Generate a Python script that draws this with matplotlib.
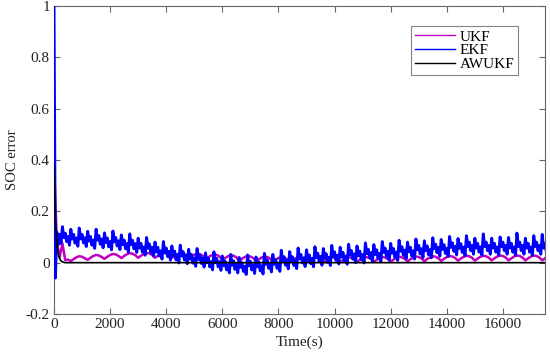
import numpy as np
import matplotlib
matplotlib.use("Agg")
import matplotlib.pyplot as plt
from matplotlib.ticker import FuncFormatter

# ---- data ----
ekf_dt = 50  # s between EKF samples
ekf = [
    1.000, -0.060, 0.120, 0.070, 0.110, 0.075,
    0.140, 0.098, 0.115, 0.082, 0.102, 0.068,
    0.130, 0.092, 0.110, 0.076, 0.096, 0.064,
    0.135, 0.093, 0.110, 0.077, 0.097, 0.063,
    0.122, 0.084, 0.102, 0.068, 0.088, 0.056,
    0.130, 0.088, 0.105, 0.072, 0.092, 0.058,
    0.116, 0.078, 0.096, 0.062, 0.082, 0.050,
    0.123, 0.081, 0.098, 0.065, 0.085, 0.051,
    0.108, 0.070, 0.088, 0.054, 0.074, 0.042,
    0.112, 0.070, 0.087, 0.054, 0.074, 0.040,
    0.095, 0.057, 0.075, 0.041, 0.061, 0.029,
    0.098, 0.056, 0.073, 0.040, 0.060, 0.026,
    0.080, 0.042, 0.060, 0.026, 0.046, 0.014,
    0.082, 0.040, 0.057, 0.024, 0.044, 0.010,
    0.065, 0.027, 0.045, 0.011, 0.031, -0.001,
    0.068, 0.026, 0.043, 0.010, 0.030, -0.004,
    0.052, 0.014, 0.032, -0.002, 0.018, -0.014,
    0.055, 0.013, 0.030, -0.003, 0.017, -0.017,
    0.038, 0.000, 0.018, -0.016, 0.004, -0.028,
    0.042, 0.000, 0.017, -0.016, 0.004, -0.030,
    0.026, -0.012, 0.006, -0.028, -0.008, -0.040,
    0.032, -0.010, 0.007, -0.026, -0.006, -0.040,
    0.020, -0.018, 0.000, -0.034, -0.014, -0.046,
    0.030, -0.012, 0.005, -0.028, -0.008, -0.042,
    0.022, -0.016, 0.002, -0.032, -0.012, -0.044,
    0.036, -0.006, 0.011, -0.022, -0.002, -0.036,
    0.032, -0.006, 0.012, -0.022, -0.002, -0.034,
    0.048, 0.006, 0.023, -0.010, 0.010, -0.024,
    0.043, 0.005, 0.023, -0.011, 0.009, -0.023,
    0.057, 0.015, 0.032, -0.001, 0.019, -0.015,
    0.050, 0.012, 0.030, -0.004, 0.016, -0.016,
    0.062, 0.020, 0.037, 0.004, 0.024, -0.010,
    0.055, 0.017, 0.035, 0.001, 0.021, -0.011,
    0.067, 0.025, 0.042, 0.009, 0.029, -0.005,
    0.060, 0.022, 0.040, 0.006, 0.026, -0.006,
    0.072, 0.030, 0.047, 0.014, 0.034, 0.000,
    0.065, 0.027, 0.045, 0.011, 0.031, -0.001,
    0.077, 0.035, 0.052, 0.019, 0.039, 0.005,
    0.070, 0.032, 0.050, 0.016, 0.036, 0.004,
    0.082, 0.040, 0.057, 0.024, 0.044, 0.010,
    0.075, 0.037, 0.055, 0.021, 0.041, 0.009,
    0.087, 0.045, 0.062, 0.029, 0.049, 0.015,
    0.080, 0.042, 0.060, 0.026, 0.046, 0.014,
    0.092, 0.050, 0.067, 0.034, 0.054, 0.020,
    0.085, 0.047, 0.065, 0.031, 0.051, 0.019,
    0.097, 0.055, 0.072, 0.039, 0.059, 0.025,
    0.090, 0.052, 0.070, 0.036, 0.056, 0.024,
    0.102, 0.060, 0.077, 0.044, 0.064, 0.030,
    0.094, 0.056, 0.074, 0.040, 0.060, 0.028,
    0.105, 0.063, 0.080, 0.047, 0.067, 0.033,
    0.095, 0.057, 0.075, 0.041, 0.061, 0.029,
    0.112, 0.063, 0.080, 0.047, 0.067, 0.033,
    0.095, 0.057, 0.075, 0.041, 0.061, 0.029,
    0.100, 0.063, 0.080, 0.047, 0.067, 0.033,
    0.098, 0.057, 0.075, 0.041, 0.061, 0.029,
    0.115, 0.063, 0.080, 0.047, 0.067, 0.033,
    0.095, 0.057, 0.075, 0.041, 0.061, 0.029,
    0.105, 0.063, 0.080, 0.047, 0.067, 0.033,
    0.110, 0.057, 0.075, 0.041, 0.061, 0.029,
]

ukf_dt = 100  # s between UKF samples
ukf = [
    0.380, 0.085, 0.020, 0.075, 0.010, 0.012,
    0.006, 0.014, 0.021, 0.025, 0.023, 0.017,
    0.011, 0.019, 0.026, 0.030, 0.028, 0.022,
    0.015, 0.023, 0.030, 0.034, 0.032, 0.026,
    0.018, 0.026, 0.033, 0.037, 0.035, 0.029,
    0.019, 0.027, 0.034, 0.038, 0.036, 0.030,
    0.019, 0.027, 0.034, 0.038, 0.036, 0.030,
    0.018, 0.026, 0.033, 0.037, 0.035, 0.029,
    0.016, 0.024, 0.031, 0.035, 0.033, 0.027,
    0.013, 0.021, 0.028, 0.032, 0.030, 0.024,
    0.010, 0.018, 0.025, 0.029, 0.027, 0.021,
    0.007, 0.015, 0.022, 0.026, 0.024, 0.018,
    0.005, 0.013, 0.020, 0.024, 0.022, 0.016,
    0.003, 0.011, 0.018, 0.022, 0.020, 0.014,
    0.002, 0.010, 0.017, 0.021, 0.019, 0.013,
    0.002, 0.010, 0.017, 0.021, 0.019, 0.013,
    0.002, 0.010, 0.017, 0.021, 0.019, 0.013,
    0.002, 0.010, 0.017, 0.021, 0.019, 0.013,
    0.003, 0.011, 0.018, 0.022, 0.020, 0.014,
    0.003, 0.011, 0.018, 0.022, 0.020, 0.014,
    0.004, 0.012, 0.019, 0.023, 0.021, 0.015,
    0.005, 0.013, 0.020, 0.024, 0.022, 0.016,
    0.006, 0.014, 0.021, 0.025, 0.023, 0.017,
    0.007, 0.015, 0.022, 0.026, 0.024, 0.018,
    0.008, 0.016, 0.023, 0.027, 0.025, 0.019,
    0.008, 0.016, 0.023, 0.027, 0.025, 0.019,
    0.009, 0.017, 0.024, 0.028, 0.026, 0.020,
    0.009, 0.017, 0.024, 0.028, 0.026, 0.020,
    0.009, 0.017, 0.024, 0.028, 0.026, 0.020,
    0.009, 0.017,
]

awukf_t = [0, 50, 100, 150, 200, 250, 300, 400, 17500]
awukf = [0.38, 0.17, 0.08, 0.035, 0.016, 0.007, 0.003, 0.0, 0.0]

xticks = [0, 2000, 4000, 6000, 8000, 10000, 12000, 14000, 16000]
yticks = [-0.2, 0, 0.2, 0.4, 0.6, 0.8, 1]
labels = ["UKF", "EKF", "AWUKF"]
colors = ["#c000c0", "#0000ff", "#000000"]

# ---- plot ----
plt.rcParams["font.family"] = ["Liberation Serif", "DejaVu Serif"]
fig = plt.figure(figsize=(5.5, 3.56), dpi=100)
ax = fig.add_axes([54 / 550, 42 / 356, 491 / 550, 308 / 356])

t_ekf = np.arange(len(ekf)) * ekf_dt
t_ukf = np.arange(len(ukf)) * ukf_dt

ax.plot(t_ukf, ukf, color=colors[0], lw=1.8, label=labels[0], zorder=2)
ax.plot(t_ekf, ekf, color=colors[1], lw=2.1, label=labels[1], zorder=3)
ax.plot(awukf_t, awukf, color=colors[2], lw=1.2, label=labels[2], zorder=4)

ax.set_xlim(0, 17500)
ax.set_ylim(-0.2, 1.0)
ax.set_xticks(xticks)
ax.set_yticks(yticks)
ax.xaxis.set_major_formatter(FuncFormatter(lambda v, p: f"{v:g}"))
ax.yaxis.set_major_formatter(FuncFormatter(lambda v, p: f"{v:g}".replace("\u2212", "-")))

spine_c = "#666666"
for s in ax.spines.values():
    s.set_color(spine_c)
    s.set_linewidth(0.8)
ax.tick_params(direction="in", top=True, right=True, length=4, width=0.8,
               color=spine_c, labelsize=11, labelcolor="#222222", pad=3)

ax.set_xlabel("Time(s)", fontsize=11, labelpad=3, color="#222222")
ax.set_ylabel("SOC error", fontsize=10.5, labelpad=5, color="#222222")

leg = ax.legend(loc="upper right", bbox_to_anchor=(0.945, 0.935),
                fontsize=11, frameon=True, fancybox=False,
                handlelength=2.6, handletextpad=0.3, labelspacing=0.0,
                borderpad=0.25, borderaxespad=0.0)
for h in leg.get_lines():
    h.set_linewidth(1.0)
leg.get_frame().set_edgecolor(spine_c)
leg.get_frame().set_linewidth(0.8)

fig.savefig("out.png", dpi=100)
